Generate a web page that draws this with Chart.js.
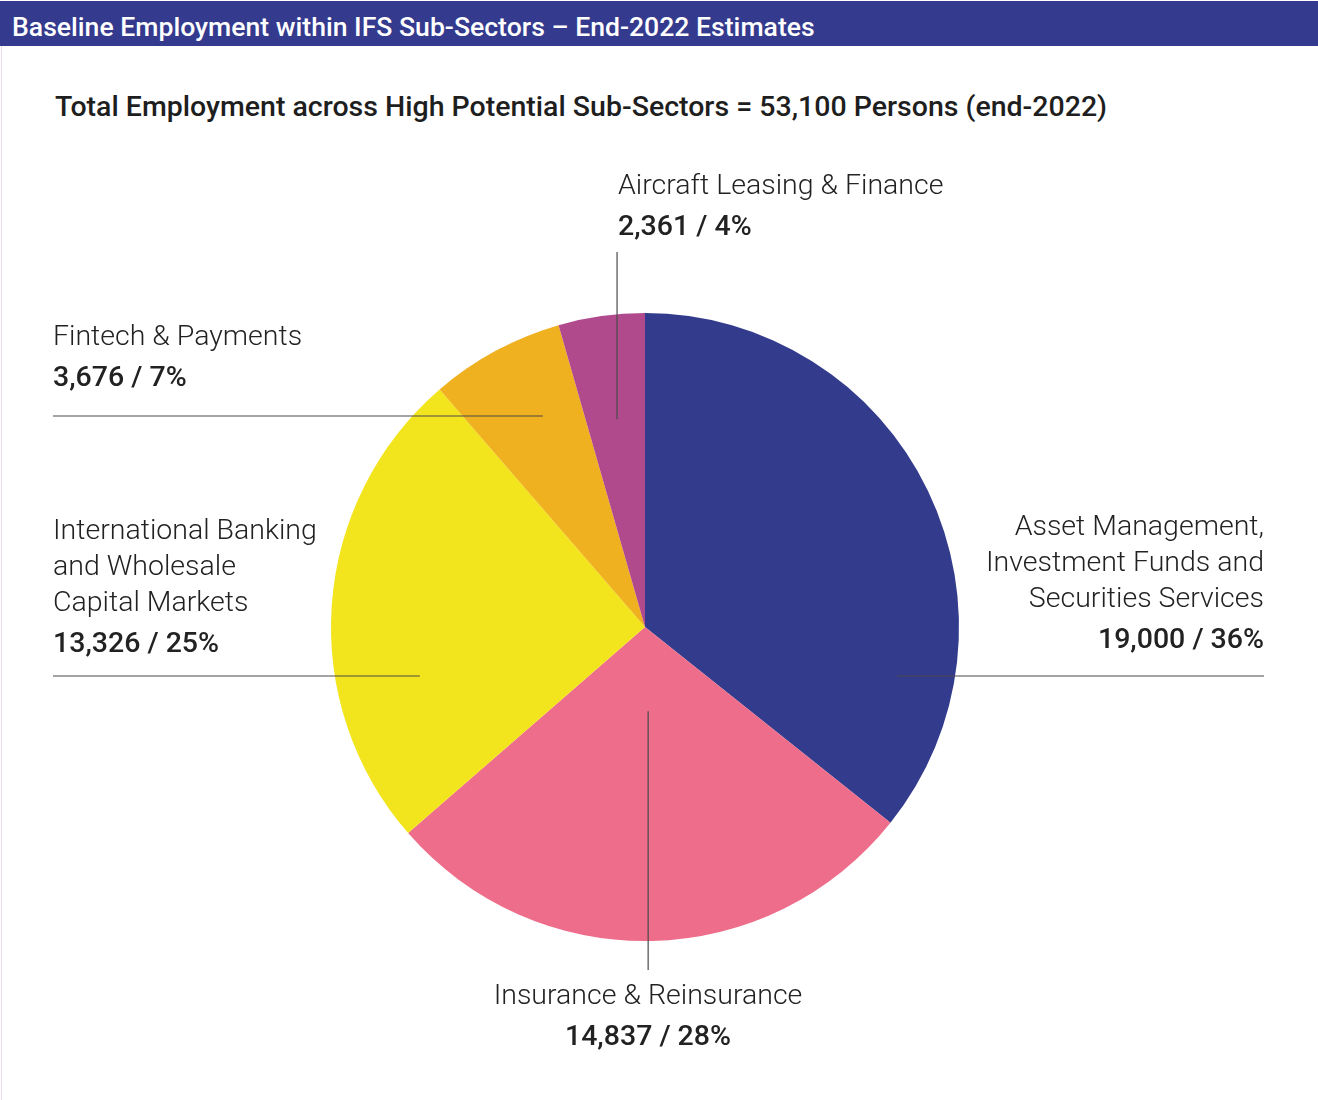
<!DOCTYPE html>
<html>
<head>
<meta charset="utf-8">
<script src="https://cdn.jsdelivr.net/npm/chart.js@4.4.1/dist/chart.umd.min.js"></script>
<style>
  html, body { margin: 0; padding: 0; background: #fff; }
  body { width: 1318px; height: 1100px; position: relative; overflow: hidden; font-family: Roboto, "Noto Sans", sans-serif; color: #222; }
  .edge { position: absolute; left: 1px; top: 46px; width: 1px; height: 1054px; background: #f1d9ee; }
  .header { position: absolute; left: 0; top: 1px; width: 1318px; height: 45px; background: #343a8d; color: #fff; font-weight: 500; font-size: 26.6px; line-height: 52px; padding-left: 12px; box-sizing: border-box; overflow: hidden; }
  .title { position: absolute; left: 55px; top: 87px; font-size: 28.5px; font-weight: 500; line-height: 40px; color: #1e1e1e; white-space: nowrap; }
  canvas { position: absolute; left: 0; top: 0; }
  .lbl { position: absolute; font-size: 28.5px; font-weight: 300; line-height: 36px; color: #222; white-space: nowrap; }
  .lbl .v { font-weight: 500; margin-top: 5px; }
  .right { text-align: right; }
  .center { text-align: center; }
</style>
</head>
<body>
<div class="edge"></div>
<div class="header">Baseline Employment within IFS Sub-Sectors – End-2022 Estimates</div>
<div class="title">Total Employment across High Potential Sub-Sectors = 53,100 Persons (end-2022)</div>
<canvas id="pie" width="1318" height="1100"></canvas>
<div id="labels"></div>
<script>
// sub-sectors, clockwise from 12 o'clock
const sectors = [
  ["Asset Management,", "Investment Funds and", "Securities Services"],
  ["Insurance & Reinsurance"],
  ["International Banking", "and Wholesale", "Capital Markets"],
  ["Fintech & Payments"],
  ["Aircraft Leasing & Finance"]
];
const persons = [19000, 14837, 13326, 3676, 2361];
const shares = [36, 28, 25, 7, 4];
const colors = ["#333b8c", "#ee6d8b", "#f2e51d", "#f0b121", "#b14a8c"];

// label blocks (position of text box) and leader lines (relative to pie radius)
const labelBoxes = [
  { right: 54, top: 508, cls: "right" },
  { left: 448, width: 400, top: 977, cls: "center" },
  { left: 53, top: 512, cls: "" },
  { left: 53, top: 318, cls: "" },
  { left: 618, top: 167, cls: "" }
];
const leaders = [
  { dx: 0.803, dy: 0.156, dir: "h", end: 1264 },
  { dx: 0.010, dy: 0.268, dir: "v", end: 970 },
  { dx: -0.717, dy: 0.156, dir: "h", end: 53 },
  { dx: -0.325, dy: -0.672, dir: "h", end: 53 },
  { dx: -0.089, dy: -0.662, dir: "v", end: 252 }
];

const fmt = (n) => n.toLocaleString("en-US");

document.getElementById("labels").innerHTML = sectors.map((lines, i) => {
  const b = labelBoxes[i];
  const pos = Object.entries(b).filter(([k]) => k !== "cls").map(([k, v]) => `${k}:${v}px`).join(";");
  return `<div class="lbl ${b.cls}" style="${pos}">
    ${lines.map((l) => `<div>${l}</div>`).join("")}
    <div class="v">${fmt(persons[i])} / ${shares[i]}%</div>
  </div>`;
}).join("");

const leaderPlugin = {
  id: "leaders",
  afterDatasetsDraw(chart) {
    const ctx = chart.ctx;
    const arcs = chart.getDatasetMeta(0).data;
    ctx.save();
    ctx.strokeStyle = "#4a4a4a";
    ctx.lineWidth = 1.2;
    leaders.forEach((ld, i) => {
      const a = arcs[i];
      const r = a.outerRadius;
      const x = a.x + ld.dx * r;
      const y = a.y + ld.dy * r;
      ctx.beginPath();
      ctx.moveTo(x, y);
      if (ld.dir === "h") ctx.lineTo(ld.end, y);
      else ctx.lineTo(x, ld.end);
      ctx.stroke();
    });
    ctx.restore();
  }
};

new Chart(document.getElementById("pie").getContext("2d"), {
  type: "pie",
  data: {
    labels: sectors.map((l) => l.join(" ")),
    datasets: [{
      data: persons,
      backgroundColor: colors,
      borderWidth: 0
    }]
  },
  options: {
    responsive: false,
    animation: false,
    layout: { padding: { top: 313, bottom: 159, left: 331, right: 359 } },
    plugins: { legend: { display: false }, tooltip: { enabled: false } }
  },
  plugins: [leaderPlugin]
});
</script>
</body>
</html>
